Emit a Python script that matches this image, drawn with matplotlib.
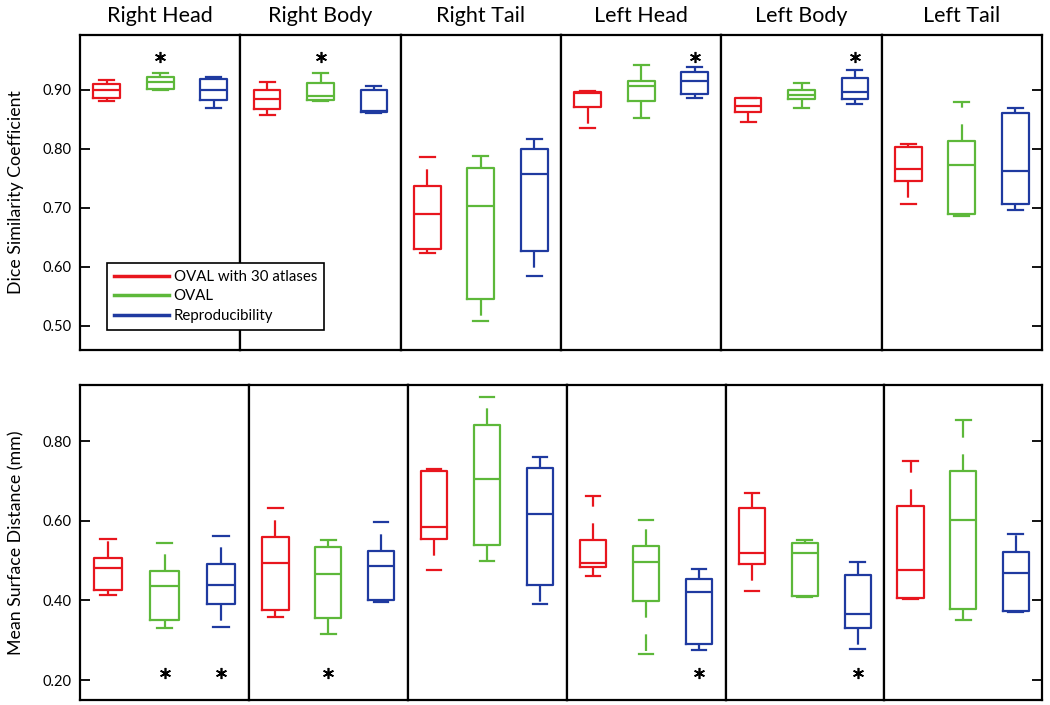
import matplotlib
matplotlib.use('Agg')
import matplotlib.pyplot as plt
from matplotlib.lines import Line2D

plt.rcParams['font.family'] = ['Lato', 'DejaVu Sans']

REGIONS = ['Right Head', 'Right Body', 'Right Tail', 'Left Head', 'Left Body', 'Left Tail']
METHODS = ['OVAL with 30 atlases', 'OVAL', 'Reproducibility']
COLORS = ['#E8161E', '#5DB83A', '#1F3AA0']

# (whisker low, q1, median, q3, whisker high) per region
DICE_OVAL30 = [(0.881, 0.8865, 0.899, 0.910, 0.9175), (0.858, 0.867, 0.885, 0.9005, 0.914),
               (0.624, 0.630, 0.690, 0.737, 0.787), (0.835, 0.871, 0.894, 0.896, 0.898),
               (0.845, 0.862, 0.872, 0.886, 0.887), (0.707, 0.745, 0.765, 0.803, 0.809)]
DICE_OVAL = [(0.899, 0.901, 0.914, 0.9225, 0.928), (0.881, 0.882, 0.890, 0.912, 0.928),
             (0.509, 0.545, 0.703, 0.768, 0.788), (0.8515, 0.881, 0.906, 0.915, 0.942),
             (0.870, 0.885, 0.8915, 0.899, 0.911), (0.686, 0.689, 0.772, 0.814, 0.879)]
DICE_REPRO = [(0.870, 0.882, 0.899, 0.9186, 0.9225), (0.860, 0.862, 0.864, 0.899, 0.907),
              (0.585, 0.627, 0.758, 0.799, 0.816), (0.8865, 0.893, 0.9146, 0.930, 0.938),
              (0.876, 0.885, 0.897, 0.920, 0.934), (0.696, 0.706, 0.7625, 0.8606, 0.8696)]

MSD_OVAL30 = [(0.413, 0.426, 0.482, 0.507, 0.554), (0.359, 0.376, 0.495, 0.560, 0.633),
              (0.476, 0.554, 0.584, 0.726, 0.729), (0.462, 0.483, 0.495, 0.551, 0.663),
              (0.424, 0.492, 0.520, 0.631, 0.670), (0.404, 0.405, 0.476, 0.638, 0.750)]
MSD_OVAL = [(0.330, 0.352, 0.436, 0.474, 0.545), (0.316, 0.355, 0.466, 0.535, 0.553),
            (0.499, 0.540, 0.705, 0.840, 0.910), (0.265, 0.398, 0.497, 0.536, 0.601),
            (0.409, 0.410, 0.520, 0.545, 0.553), (0.351, 0.379, 0.603, 0.725, 0.854)]
MSD_REPRO = [(0.334, 0.392, 0.440, 0.491, 0.562), (0.395, 0.401, 0.486, 0.524, 0.596),
             (0.391, 0.440, 0.616, 0.733, 0.761), (0.275, 0.291, 0.421, 0.454, 0.478),
             (0.278, 0.330, 0.366, 0.464, 0.496), (0.370, 0.373, 0.470, 0.522, 0.566)]

# which method (0,1,2) carries a significance star in each region
DICE_SIG = [[1], [1], [], [2], [2], []]
MSD_SIG = [[1, 2], [1], [], [2], [2], []]

DICE_TICKS = [0.50, 0.60, 0.70, 0.80, 0.90]
MSD_TICKS = [0.20, 0.40, 0.60, 0.80]

W, H = 1050, 705
fig = plt.figure(figsize=(W / 100, H / 100), dpi=100)
fig.patch.set_facecolor('white')

gs_top = fig.add_gridspec(1, 6, left=80 / W, right=1042 / W, top=1 - 35 / H,
                          bottom=1 - 350 / H, wspace=0)
gs_bot = fig.add_gridspec(1, 6, left=80 / W, right=1042 / W, top=1 - 385 / H,
                          bottom=1 - 700 / H, wspace=0,
                          width_ratios=[169, 158.5, 159, 159, 158.8, 157.7])


def draw_row(gs, series, sig, ylim, ticks, sig_y, ylabel, titles):
    axes = []
    for i in range(len(REGIONS)):
        ax = fig.add_subplot(gs[0, i])
        for m, data in enumerate(series):
            lo, q1, med, q3, hi = data[i]
            st = [dict(whislo=lo, q1=q1, med=med, q3=q3, whishi=hi, fliers=[])]
            c = COLORS[m]
            ax.bxp(st, positions=[m + 1], widths=0.5, capwidths=0.28, showfliers=False,
                   boxprops=dict(color=c, lw=1.6),
                   medianprops=dict(color=c, lw=1.6),
                   whiskerprops=dict(color=c, lw=1.6, linestyle=(0, (7.5, 7.5))),
                   capprops=dict(color=c, lw=1.6))
        for m in sig[i]:
            ax.plot(m + 1, sig_y, marker=(6, 2, 0), ms=8, mew=1.2, color='black')
        ax.set_xlim(0.5, 3.5)
        ax.set_ylim(*ylim)
        ax.set_xticks([])
        for s in ax.spines.values():
            s.set_linewidth(1.6)
            s.set_color('black')
        ax.set_yticks(ticks)
        ax.tick_params(axis='y', direction='in', length=7, width=1.3,
                       left=(i == 0), right=(i == len(REGIONS) - 1),
                       labelleft=(i == 0), labelright=False, labelsize=10.5, pad=6)
        if i == 0:
            ax.set_yticklabels([f'{t:.2f}' for t in ticks])
        if titles:
            ax.set_title(REGIONS[i], fontsize=15.5, pad=9)
        axes.append(ax)
    pos = axes[0].get_position()
    fig.text(16 / W, (pos.y0 + pos.y1) / 2, ylabel, rotation=90, ha='center',
             va='center', fontsize=12.8)
    return axes


draw_row(gs_top, [DICE_OVAL30, DICE_OVAL, DICE_REPRO], DICE_SIG, (0.459, 0.993),
         DICE_TICKS, 0.955, 'Dice Similarity Coefficient', True)
draw_row(gs_bot, [MSD_OVAL30, MSD_OVAL, MSD_REPRO], MSD_SIG, (0.150, 0.941),
         MSD_TICKS, 0.219, 'Mean Surface Distance (mm)', False)

handles = [Line2D([], [], color=c, lw=2.5) for c in COLORS]
leg = fig.legend(handles, METHODS, loc='upper left', bbox_to_anchor=(107 / W, 1 - 263 / H),
                 borderaxespad=0, fontsize=10.8, handlelength=3.7, handletextpad=0.3,
                 labelspacing=0.38, borderpad=0.45, fancybox=False, framealpha=1,
                 edgecolor='black')
leg.get_frame().set_linewidth(1.2)

fig.savefig('out.png', dpi=100, facecolor='white')
